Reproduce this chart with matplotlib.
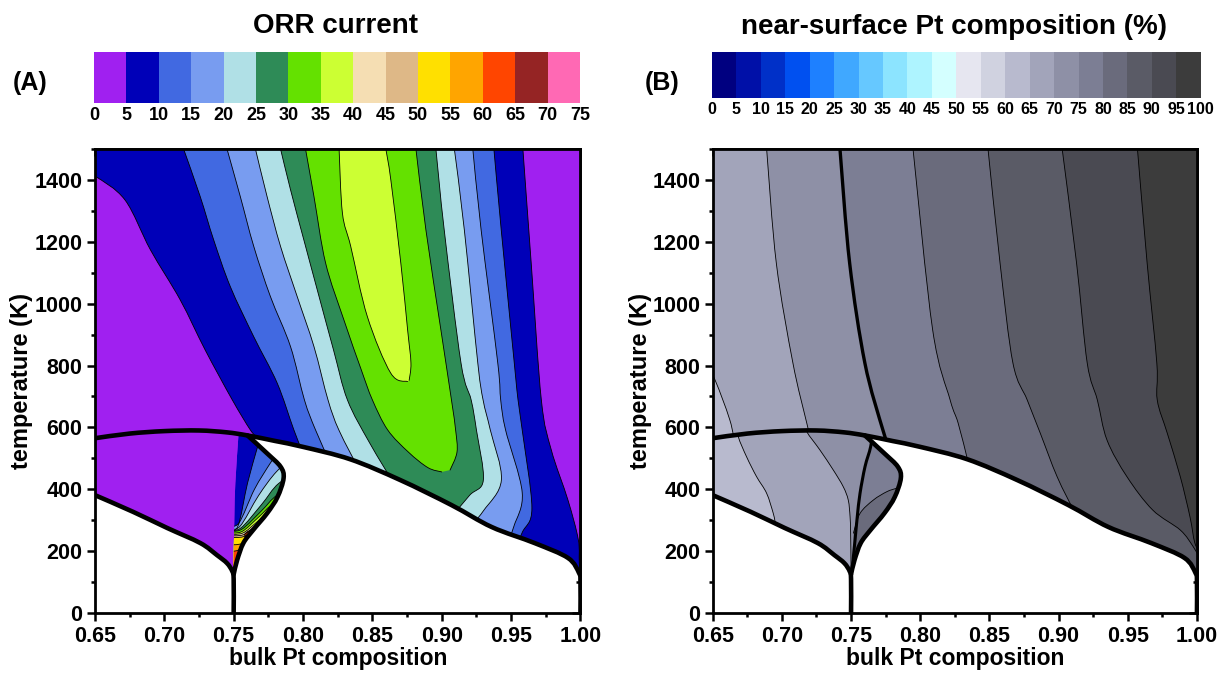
import numpy as np
import matplotlib.pyplot as plt
from matplotlib.path import Path
from matplotlib.patches import PathPatch
from matplotlib.colors import ListedColormap, BoundaryNorm
from matplotlib.cm import ScalarMappable
from matplotlib.ticker import MultipleLocator, FormatStrFormatter

plt.rcParams['font.family'] = ['Liberation Sans', 'DejaVu Sans']
plt.rcParams['font.weight'] = 'bold'

# ---------------- phase boundaries (bulk Pt fraction, T in K) ----------------
dome_x = [0.65, 0.675, 0.70, 0.725, 0.745, 0.76, 0.78, 0.80, 0.834, 0.87, 0.907, 0.936, 0.967, 0.991, 0.999, 1.0, 1.0]
dome_T = [565, 580, 588, 590, 584, 574, 556, 537, 497, 430, 349, 278, 226, 178, 129, 100, 0]
low_x = [0.65, 0.6775, 0.702, 0.726, 0.738, 0.7452, 0.749, 0.75, 0.75]
low_T = [381, 327, 275, 226, 187, 161, 135, 110, 0]
lobe_x = [0.760, 0.7741, 0.7838, 0.786, 0.7816, 0.7742, 0.764, 0.757, 0.7525, 0.75]
lobe_T = [574, 516, 473, 436, 375, 323, 268, 226, 171, 125]
lobe_left_x = [0.75, 0.7500, 0.7505, 0.7512, 0.7535]
lobe_left_T = [125, 161, 311, 420, 578]

# ---------------- (A) ORR current ----------------
orr_bounds = list(range(0, 80, 5))
orr_colors = ['#A020F0', '#0000B8', '#4169E1', '#789CF0', '#B0E0E6', '#2E8B57', '#64E100', '#CCFF33',
              '#F5DEB3', '#DEB887', '#FFE000', '#FFA500', '#FF4500', '#952424', '#FF69B4']

# disordered region: contour branches on the Pt-poor (left) and Pt-rich (right) side, top to bottom
orr_levels = [5, 10, 15, 20, 25, 30, 35]
orr_left_x = [
    [0.645, 0.6505, 0.6717, 0.690, 0.7115, 0.7295, 0.749, 0.762, 0.768, 0.775],
    [0.7139, 0.7259, 0.7356, 0.7476, 0.7645, 0.7814, 0.7934, 0.803],
    [0.7452, 0.7548, 0.7645, 0.7765, 0.791, 0.801, 0.809, 0.822],
    [0.7657, 0.7741, 0.7838, 0.7958, 0.8079, 0.818, 0.826, 0.842],
    [0.7838, 0.791, 0.8006, 0.8103, 0.822, 0.832, 0.848, 0.868],
    [0.8018, 0.8079, 0.8163, 0.8295, 0.842, 0.850, 0.861, 0.876, 0.890, 0.900],
    [0.826, 0.8284, 0.8344, 0.8464, 0.8633, 0.8754],
]
orr_left_T = [
    [1415, 1411, 1335, 1174, 1012, 850, 689, 592, 560, 500],
    [1500, 1346, 1206, 1055, 893, 743, 592, 480],
    [1500, 1346, 1185, 1023, 861, 689, 592, 460],
    [1500, 1346, 1185, 1023, 861, 689, 590, 450],
    [1500, 1368, 1206, 1044, 850, 689, 550, 400],
    [1500, 1346, 1131, 947, 786, 689, 592, 520, 470, 456],
    [1500, 1293, 1185, 958, 775, 748],
]
orr_right_x = [
    [0.9585, 0.9645, 0.9718, 0.979, 0.991, 0.9985, 0.9995, 1.005],
    [0.9376, 0.9429, 0.9523, 0.955, 0.958, 0.965, 0.958, 0.950],
    [0.9224, 0.9284, 0.9404, 0.9425, 0.946, 0.958, 0.952, 0.945],
    [0.9091, 0.9163, 0.926, 0.9298, 0.935, 0.943, 0.930, 0.915],
    [0.8958, 0.9018, 0.9139, 0.9212, 0.925, 0.930, 0.920, 0.905],
    [0.8814, 0.8886, 0.8994, 0.907, 0.910, 0.911, 0.906],
    [0.8597, 0.8633, 0.8705, 0.8754, 0.8778, 0.8765],
]
orr_right_T = [
    [1500, 1131, 689, 527, 365, 236, 149, 50],
    [1500, 1238, 808, 689, 592, 340, 260, 180],
    [1500, 1238, 808, 689, 592, 390, 280, 200],
    [1500, 1238, 808, 689, 592, 430, 330, 250],
    [1500, 1238, 808, 689, 592, 430, 380, 300],
    [1500, 1238, 915, 689, 592, 520, 462],
    [1500, 1400, 1131, 915, 808, 752],
]

# lobe below the dome: contours fanning out from its lower left corner
lobe_levels = [10, 15, 20, 25, 30, 35, 40, 45, 50, 55, 60]
lobe_ray_x = [
    [0.745, 0.7529, 0.760, 0.7669, 0.771],
    [0.745, 0.7536, 0.765, 0.7765, 0.785],
    [0.745, 0.7543, 0.768, 0.7809, 0.795],
    [0.745, 0.7549, 0.770, 0.7825, 0.800],
    [0.745, 0.7556, 0.770, 0.7814, 0.800],
    [0.745, 0.7558, 0.768, 0.7794, 0.800],
    [0.745, 0.7563, 0.767, 0.7770, 0.800],
    [0.745, 0.7570, 0.766, 0.7741, 0.800],
    [0.745, 0.7572, 0.765, 0.7717, 0.800],
    [0.745, 0.7561, 0.762, 0.7681, 0.800],
    [0.745, 0.7536, 0.758, 0.7621, 0.800],
]
lobe_ray_T = [
    [272, 279, 420, 532, 600],
    [285, 290, 400, 485, 540],
    [275, 279, 380, 457, 510],
    [270, 274, 350, 419, 460],
    [266, 270, 330, 381, 420],
    [260, 263, 310, 355, 390],
    [255, 258, 295, 333, 370],
    [250, 253, 285, 317, 360],
    [244, 247, 275, 301, 350],
    [220, 225, 258, 285, 340],
    [200, 204, 240, 268, 330],
]

# ---------------- (B) near-surface Pt composition ----------------
pt_bounds = list(range(0, 105, 5))
pt_colors = ['#000080', '#0010A8', '#0030C8', '#0050F0', '#1E80FF', '#40A8FF', '#66C8FF', '#8CE4FF',
             '#AEF4FF', '#D4FFFF', '#E6E6F0', '#D0D2E0', '#B8BACE', '#A2A4BA', '#8E90A6', '#7C7E94',
             '#6A6B7C', '#5A5B66', '#4A4A52', '#3C3C3C']

pt_levels = [65, 70, 75, 80, 85, 90, 95]
pt_x = [
    [0.645, 0.65, 0.6624, 0.666],
    [0.689, 0.696, 0.708, 0.718, 0.722],
    [0.742, 0.749, 0.760, 0.773, 0.778],
    [0.7948, 0.809, 0.8216, 0.8274, 0.8346, 0.837],
    [0.849, 0.8577, 0.867, 0.8773, 0.8867, 0.899, 0.912, 0.918],
    [0.9026, 0.913, 0.9207, 0.928, 0.935, 0.9495, 0.968, 0.988, 0.9975, 1.003],
    [0.957, 0.964, 0.971, 0.9713, 0.9785, 0.988, 0.995, 0.9985, 1.003],
]
pt_T = [
    [775, 770, 624, 540],
    [1500, 1131, 808, 614, 540],
    [1500, 1131, 808, 592, 530],
    [1500, 915, 689, 614, 488, 440],
    [1500, 1131, 808, 689, 582, 440, 323, 280],
    [1500, 1131, 808, 689, 559, 440, 333, 268, 213, 170],
    [1500, 1131, 808, 689, 582, 440, 310, 226, 190],
]
# ordered phase left of x = 0.75
l12_levels = [65, 70]
l12_x = [
    [0.667, 0.6685, 0.6745, 0.6817, 0.689, 0.6938, 0.6962, 0.701, 0.705],
    [0.716, 0.718, 0.7275, 0.7372, 0.7444, 0.748, 0.7493, 0.7497, 0.750],
]
l12_T = [
    [620, 570, 505, 441, 387, 322, 279, 263, 230],
    [620, 586, 527, 462, 408, 365, 311, 258, 150],
]
# lobe
plobe_levels = [75, 80]
plobe_x = [
    [0.766, 0.7642, 0.7601, 0.7565, 0.7545, 0.7529, 0.7517, 0.7505],
    [0.7517, 0.7565, 0.7661, 0.7758, 0.7829, 0.790],
]
plobe_T = [
    [600, 538, 473, 387, 311, 236, 182, 120],
    [258, 322, 365, 392, 403, 410],
]


def curve(p):
    # Catmull-Rom spline through the points, as cubic Bezier pieces
    n = len(p)
    verts, codes = [], []
    for i in range(n - 1):
        a, b, c, d = p[max(i - 1, 0)], p[i], p[i + 1], p[min(i + 2, n - 1)]
        verts += [b + (c - a) / 6, c - (d - b) / 6, c]
        codes += [Path.CURVE4] * 3
    return verts, codes


def make_path(*parts, closed=True):
    verts, codes = [], []
    for k, part in enumerate(parts):
        p = np.asarray(part, float)
        verts.append(p[0])
        codes.append(Path.MOVETO if k == 0 else Path.LINETO)
        if len(p) > 1:
            v, c = curve(p)
            verts += v
            codes += c
    if closed:
        verts.append(verts[0])
        codes.append(Path.CLOSEPOLY)
    return Path(verts, codes)


def pts(xs, Ts):
    return list(zip(xs, Ts))


def color_of(level, bounds, colors):
    return colors[bounds.index(level)]


def paint(ax, path, color, clip):
    p = PathPatch(path, facecolor=color, edgecolor='none', zorder=1)
    ax.add_patch(p)
    p.set_clip_path(clip)


def trace(ax, xs, Ts, clip, lw=0.6):
    p = PathPatch(make_path(pts(xs, Ts), closed=False), fill=False, edgecolor='k', lw=lw, zorder=2,
                  joinstyle='round', capstyle='round')
    ax.add_patch(p)
    p.set_clip_path(clip)


def right_of(xs, Ts, xfar):
    # area right of a contour that runs downward
    return make_path(pts(xs, Ts), [(xs[-1], -100)], [(xfar, -100)], [(xfar, 1600)], [(xs[0], 1600)])


def below(xs, Ts, xfar):
    # area under a contour that rises to the right
    return make_path(pts(xs, Ts), [(xfar, Ts[-1])], [(xfar, -100)], [(xs[0], -100)])


def regions(ax):
    # disordered phase above the dome, everything under the dome, and the lobe alone
    dome = pts(dome_x, dome_T)
    upper = make_path([(0.64, 1600), (0.64, dome_T[0])], dome, [(1.0, 1600)])
    under = make_path([(0.64, dome_T[0])], [p for p in dome if p[0] < lobe_x[0]] + pts(lobe_x, lobe_T),
                      pts(low_x, low_T)[::-1], [(0.64, low_T[0])])
    lobe = make_path(pts(lobe_left_x, lobe_left_T), pts(lobe_x, lobe_T))
    return [PathPatch(p, transform=ax.transData) for p in (upper, under, lobe)]


def boundaries(ax):
    for xs, Ts in ((dome_x, dome_T), (low_x, low_T), (lobe_x, lobe_T)):
        ax.add_patch(PathPatch(make_path(pts(xs, Ts), closed=False), fill=False, edgecolor='k', lw=3.3,
                               zorder=4, joinstyle='round', capstyle='round'))


def frame(ax):
    ax.set_xlim(0.65, 1.0)
    ax.set_ylim(0, 1500)
    ax.xaxis.set_major_locator(MultipleLocator(0.05))
    ax.xaxis.set_minor_locator(MultipleLocator(0.025))
    ax.xaxis.set_major_formatter(FormatStrFormatter('%.2f'))
    ax.yaxis.set_major_locator(MultipleLocator(200))
    ax.yaxis.set_minor_locator(MultipleLocator(100))
    ax.tick_params(which='both', direction='out', width=1.8, labelsize=15.5)
    ax.tick_params(axis='x', pad=3.5)
    ax.tick_params(axis='y', pad=3)
    ax.tick_params(which='major', length=6)
    ax.tick_params(which='minor', length=3)
    for s in ax.spines.values():
        s.set_linewidth(2.0)
        s.set_zorder(5)
    top = ax.secondary_xaxis('top')
    top.xaxis.set_major_locator(MultipleLocator(0.05))
    top.xaxis.set_minor_locator(MultipleLocator(0.025))
    top.tick_params(which='both', direction='in', width=1.8, labeltop=False)
    top.tick_params(which='major', length=5)
    top.tick_params(which='minor', length=3)
    top.spines['top'].set_linewidth(2.0)
    right = ax.secondary_yaxis('right')
    right.yaxis.set_major_locator(MultipleLocator(200))
    right.yaxis.set_minor_locator(MultipleLocator(100))
    right.tick_params(which='both', direction='in', width=1.8, labelright=False)
    right.tick_params(which='major', length=6)
    right.tick_params(which='minor', length=3)
    right.spines['right'].set_linewidth(2.0)


fig = plt.figure(figsize=(12.22, 6.76), dpi=100)
axA = fig.add_axes([0.0777, 0.0932, 0.3973, 0.6864])
axB = fig.add_axes([0.5832, 0.0932, 0.3963, 0.6864])

# ---- panel A ----
upA, underA, lobeA = regions(axA)
paint(axA, upA.get_path(), orr_colors[0], upA)
for lev, xl, Tl, xr, Tr in zip(orr_levels, orr_left_x, orr_left_T, orr_right_x, orr_right_T):
    ridge = make_path([(xl[0], 1600)], pts(xl, Tl), pts(xr, Tr)[::-1], [(xr[0], 1600)])
    paint(axA, ridge, color_of(lev, orr_bounds, orr_colors), upA)
    trace(axA, xl, Tl, upA)
    trace(axA, xr, Tr, upA)
paint(axA, underA.get_path(), orr_colors[0], underA)
paint(axA, lobeA.get_path(), orr_colors[1], lobeA)
for lev, xs, Ts in zip(lobe_levels, lobe_ray_x, lobe_ray_T):
    paint(axA, below(xs, Ts, 0.80), color_of(lev, orr_bounds, orr_colors), lobeA)
    trace(axA, xs, Ts, lobeA)
boundaries(axA)
frame(axA)

# ---- panel B ----
upB, underB, lobeB = regions(axB)
paint(axB, upB.get_path(), color_of(60, pt_bounds, pt_colors), upB)
for lev, xs, Ts in zip(pt_levels, pt_x, pt_T):
    paint(axB, right_of(xs, Ts, 1.05), color_of(lev, pt_bounds, pt_colors), upB)
    trace(axB, xs, Ts, upB, lw=2.4 if lev == 75 else 0.6)
paint(axB, underB.get_path(), color_of(60, pt_bounds, pt_colors), underB)
for lev, xs, Ts in zip(l12_levels, l12_x, l12_T):
    paint(axB, right_of(xs, Ts, 0.80), color_of(lev, pt_bounds, pt_colors), underB)
    trace(axB, xs, Ts, underB)
for lev, xs, Ts in zip(plobe_levels, plobe_x, plobe_T):
    area = right_of(xs, Ts, 0.80) if Ts[0] > Ts[-1] else below(xs, Ts, 0.80)
    paint(axB, area, color_of(lev, pt_bounds, pt_colors), lobeB)
    trace(axB, xs, Ts, lobeB, lw=2.2 if lev == 75 else 0.6)
boundaries(axB)
frame(axB)

# ---- colour bars ----
caxA = fig.add_axes([0.0769, 0.8476, 0.3977, 0.0754])
cbA = fig.colorbar(ScalarMappable(norm=BoundaryNorm(orr_bounds, len(orr_colors)), cmap=ListedColormap(orr_colors)),
                   cax=caxA, orientation='horizontal', ticks=orr_bounds)
cbA.outline.set_visible(False)
caxA.tick_params(length=0, labelsize=13, pad=3)

caxB = fig.add_axes([0.5826, 0.8550, 0.4000, 0.0680])
cbB = fig.colorbar(ScalarMappable(norm=BoundaryNorm(pt_bounds, len(pt_colors)), cmap=ListedColormap(pt_colors)),
                   cax=caxB, orientation='horizontal', ticks=pt_bounds)
cbB.outline.set_visible(False)
caxB.tick_params(length=0, labelsize=11.5, pad=3)

fig.text(0.2745, 0.961, 'ORR current', ha='center', va='center', fontsize=20)
fig.text(0.7807, 0.960, 'near-surface Pt composition (%)', ha='center', va='center', fontsize=20)
fig.text(0.0245, 0.877, '(A)', ha='center', va='center', fontsize=18)
fig.text(0.5417, 0.877, '(B)', ha='center', va='center', fontsize=18)
for x0 in (22 / 1222, 640 / 1222):
    fig.text(x0, 1 - 381 / 676, 'temperature (K)', rotation=90, ha='center', va='center', fontsize=17)
for xc in (338 / 1222, 955 / 1222):
    fig.text(xc, 1 - 665 / 676, 'bulk Pt composition', ha='center', va='baseline', fontsize=16.5)

fig.savefig('out.png', dpi=100)
